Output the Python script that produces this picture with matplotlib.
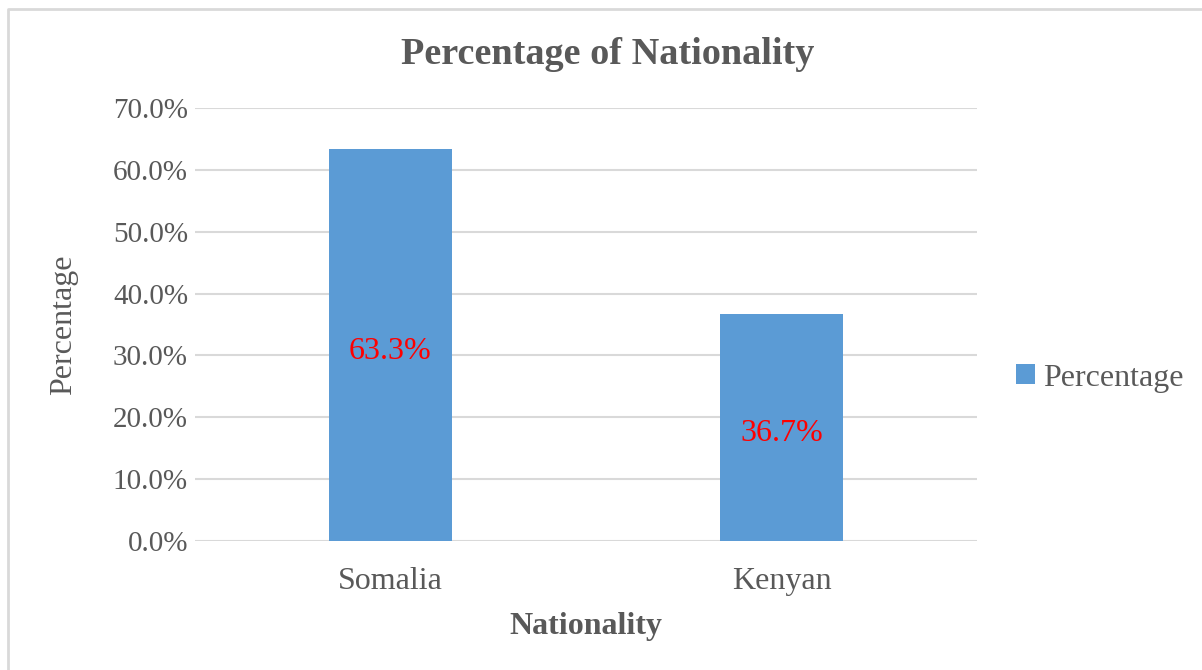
import matplotlib.pyplot as plt
from matplotlib.lines import Line2D

# Data
countries = ["Somalia", "Kenyan"]
percentages = [63.3, 36.7]
y_ticks = [0, 10, 20, 30, 40, 50, 60, 70]

bar_color = "#5B9BD5"
text_color = "#595959"
grid_color = "#D9D9D9"

plt.rcParams["font.family"] = ["Liberation Serif", "DejaVu Serif"]

W, H = 1202, 670
fig = plt.figure(figsize=(W / 100, H / 100), dpi=100)
ax = fig.add_axes([195 / W, 1 - 541 / H, (977 - 195) / W, (541 - 108) / H])

# Light border (left and top edges only are visible in the reference)
fig.lines.append(Line2D([7.5 / W, 7.5 / W, 1.0], [0.0, 1 - 9 / H, 1 - 9 / H],
                        transform=fig.transFigure, color=grid_color, linewidth=2))

x = range(len(countries))
ax.bar(x, percentages, width=0.315, color=bar_color, label="Percentage", zorder=3)

# Data labels in red, placed inside the bars
for xi, val in zip(x, percentages):
    ax.text(xi, val / 2 - 1, f"{val:.1f}%", ha="center", va="center",
            color="red", fontsize=23, zorder=4)

ax.set_xlim(-0.5, 1.5)
ax.set_ylim(0, 70)
ax.set_yticks(y_ticks)
ax.set_yticklabels([f"{t:.1f}%" for t in y_ticks])
ax.set_xticks(list(x))
ax.set_xticklabels(countries)
ax.tick_params(axis="both", length=0, colors=text_color)
ax.tick_params(axis="y", labelsize=21, pad=5)
ax.tick_params(axis="x", labelsize=23, pad=19)

ax.grid(axis="y", color=grid_color, linewidth=1.5, zorder=0)
for s in ax.spines.values():
    s.set_visible(False)

fig.text(608 / W, 1 - 55 / H, "Percentage of Nationality", fontsize=27.5,
         fontweight="bold", color=text_color, ha="center", va="center")
ax.set_xlabel("Nationality", fontsize=23, fontweight="bold", color=text_color, labelpad=11)
ax.set_ylabel("Percentage", fontsize=23, color=text_color)
ax.yaxis.set_label_coords((78 - 195) / (977 - 195), 0.5)

leg = fig.legend(loc="center left", bbox_to_anchor=(1016 / W, 1 - 378 / H), frameon=False,
                 fontsize=23, handlelength=0.6, handleheight=0.6, handletextpad=0.25,
                 borderaxespad=0, borderpad=0)
for t in leg.get_texts():
    t.set_color(text_color)

fig.savefig("out.png", dpi=100)
